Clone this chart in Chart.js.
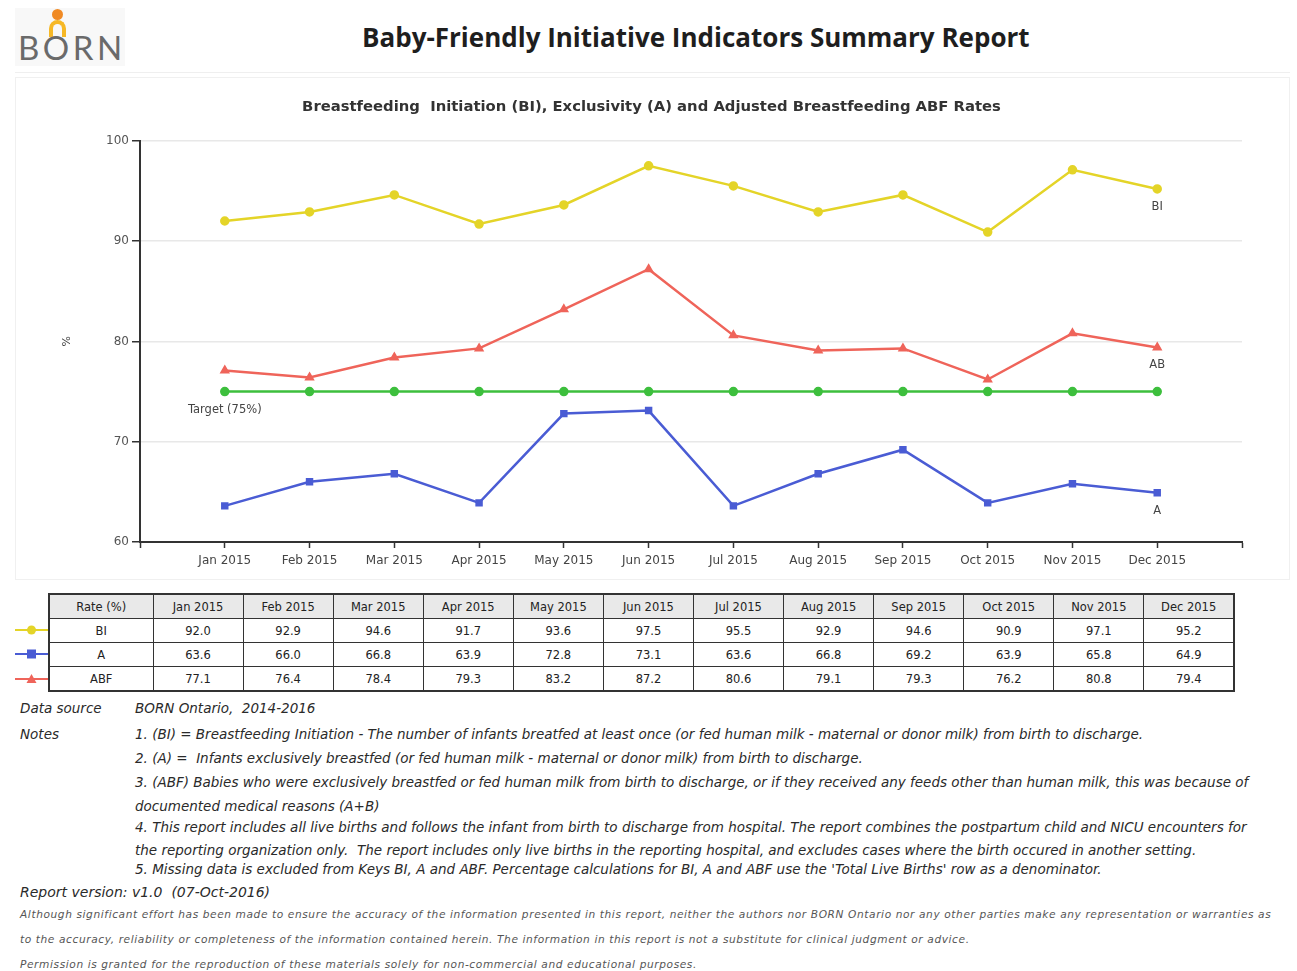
<!DOCTYPE html>
<html>
<head>
<meta charset="utf-8">
<script src="https://cdn.jsdelivr.net/npm/chart.js@4.4.1/dist/chart.umd.min.js"></script>
<style>
    body { margin: 0; background: #fff; width: 1297px; height: 971px; position: relative; overflow: hidden; font-family: "DejaVu Sans", sans-serif; color: #222; }
    #logo { position: absolute; left: 15px; top: 8px; width: 110px; height: 58px; background: #f8f8f8; }
    #logo .head { position: absolute; left: 37px; top: 1px; width: 11px; height: 11px; border-radius: 50%; background: #f08a24; }
    #logo .arch { position: absolute; left: 34px; top: 12px; width: 9px; height: 13px; border: 4px solid #f6b826; border-bottom: none; border-radius: 9px 9px 0 0; }
    #logo span { position: absolute; left: 3px; top: 19px; font-family: Lato, sans-serif; font-size: 33px; line-height: 40px; color: #6a6a6a; letter-spacing: 3.5px; }
    #title { position: absolute; left: 362px; top: 19px; font-family: "Open Sans", sans-serif; font-weight: 700; font-size: 26px; line-height: 36px; color: #1e1e1e; white-space: nowrap; }
    #rule { position: absolute; left: 15px; top: 72px; width: 1275px; height: 1px; background: #efefef; }
    #chartBox { position: absolute; left: 15px; top: 77px; width: 1275px; height: 503px; border: 1px solid #f0f0f0; box-sizing: border-box; }
    #rates { position: absolute; left: 48px; top: 593px; width: 1187px; border-collapse: collapse; border: 2px solid #333; table-layout: fixed; font-size: 11.5px; }
    #rates th, #rates td { border: 1px solid #333; height: 23px; padding: 0; text-align: center; font-weight: normal; }
    #rates th { background: #e9e9e9; }
    #rates col.first { width: 104px; }
    .key { position: absolute; left: 15px; width: 33px; height: 14px; }
    .note { position: absolute; font-style: italic; font-size: 13.5px; white-space: nowrap; color: #2a2a2a; }
    .fine { position: absolute; left: 20px; font-style: italic; font-size: 10.6px; white-space: nowrap; color: #555; letter-spacing: 0.6px; }
</style>
</head>
<body>
<div id="logo"><div class="head"></div><div class="arch"></div><span>BORN</span></div>
<div id="title">Baby-Friendly Initiative Indicators Summary Report</div>
<div id="rule"></div>
<div id="chartBox"><canvas id="rateChart" width="1273" height="501"></canvas></div>

<table id="rates"></table>
<div id="keys"></div>

<div class="note" style="left:20px;top:700px">Data source</div>
<div class="note" style="left:135px;top:700px">BORN Ontario,&nbsp; 2014-2016</div>
<div class="note" style="left:20px;top:726px">Notes</div>
<div class="note" style="left:135px;top:726px">1. (BI) = Breastfeeding Initiation - The number of infants breatfed at least once (or fed human milk - maternal or donor milk) from birth to discharge.</div>
<div class="note" style="left:135px;top:750px">2. (A) =&nbsp; Infants exclusively breastfed (or fed human milk - maternal or donor milk) from birth to discharge.</div>
<div class="note" style="left:135px;top:774px">3. (ABF) Babies who were exclusively breastfed or fed human milk from birth to discharge, or if they received any feeds other than human milk, this was because of</div>
<div class="note" style="left:135px;top:798px">documented medical reasons (A+B)</div>
<div class="note" style="left:135px;top:819px">4. This report includes all live births and follows the infant from birth to discharge from hospital. The report combines the postpartum child and NICU encounters for</div>
<div class="note" style="left:135px;top:842px">the reporting organization only.&nbsp; The report includes only live births in the reporting hospital, and excludes cases where the birth occured in another setting.</div>
<div class="note" style="left:135px;top:861px">5. Missing data is excluded from Keys BI, A and ABF. Percentage calculations for BI, A and ABF use the 'Total Live Births' row as a denominator.</div>
<div class="note" style="left:20px;top:884px;font-size:14px">Report version: v1.0&nbsp; (07-Oct-2016)</div>
<div class="fine" style="top:908px">Although significant effort has been made to ensure the accuracy of the information presented in this report, neither the authors nor BORN Ontario nor any other parties make any representation or warranties as</div>
<div class="fine" style="top:933px">to the accuracy, reliability or completeness of the information contained herein. The information in this report is not a substitute for clinical judgment or advice.</div>
<div class="fine" style="top:958px">Permission is granted for the reproduction of these materials solely for non-commercial and educational purposes.</div>

<script>
"use strict";

// DATA
const months = ["Jan 2015", "Feb 2015", "Mar 2015", "Apr 2015", "May 2015", "Jun 2015",
    "Jul 2015", "Aug 2015", "Sep 2015", "Oct 2015", "Nov 2015", "Dec 2015"];
const biRates = [92.0, 92.9, 94.6, 91.7, 93.6, 97.5, 95.5, 92.9, 94.6, 90.9, 97.1, 95.2];
const aRates = [63.6, 66.0, 66.8, 63.9, 72.8, 73.1, 63.6, 66.8, 69.2, 63.9, 65.8, 64.9];
const abfRates = [77.1, 76.4, 78.4, 79.3, 83.2, 87.2, 80.6, 79.1, 79.3, 76.2, 80.8, 79.4];
const targetRates = [75, 75, 75, 75, 75, 75, 75, 75, 75, 75, 75, 75];
const rowNames = ["BI", "A", "ABF"];
const yMin = 60;
const yMax = 100;
const yStep = 10;

const YELLOW = "#e4d428";
const BLUE = "#4a5cd4";
const RED = "#ef645a";
const GREEN = "#3dbf3d";
const AXIS = "#333";

function points(values) {
    return values.map((v, i) => ({ x: i + 1, y: v }));
}

// small text under a chosen point of a series
const seriesTags = {
    id: "seriesTags",
    afterDatasetsDraw(chart) {
        const ctx = chart.ctx;
        ctx.save();
        ctx.font = "11.5px 'DejaVu Sans'";
        ctx.fillStyle = "#444";
        ctx.textAlign = "center";
        ctx.textBaseline = "middle";
        chart.data.datasets.forEach((ds, i) => {
            if (!ds.tag) {
                return;
            }
            const pt = chart.getDatasetMeta(i).data[ds.tagAt];
            ctx.fillText(ds.tag, pt.x, pt.y + 18);
        });
        ctx.restore();
    }
};

function line(label, values, color, style, tag, tagAt) {
    return {
        label,
        data: points(values),
        borderColor: color,
        backgroundColor: color,
        pointBackgroundColor: color,
        pointBorderColor: color,
        pointStyle: style,
        pointRadius: 3.5,
        borderWidth: 2.5,
        tension: 0,
        tag,
        tagAt
    };
}

new Chart(document.getElementById("rateChart"), {
    type: "line",
    data: {
        datasets: [
            line("Target", targetRates, GREEN, "circle", "Target (75%)", 0),
            line("A", aRates, BLUE, "rect", "A", 11),
            line("ABF", abfRates, RED, "triangle", "AB", 11),
            line("BI", biRates, YELLOW, "circle", "BI", 11)
        ]
    },
    options: {
        responsive: false,
        animation: false,
        layout: { padding: { left: 45, right: 47, top: 0, bottom: 7 } },
        plugins: {
            legend: { display: false },
            tooltip: { enabled: false },
            title: {
                display: true,
                text: "Breastfeeding  Initiation (BI), Exclusivity (A) and Adjusted Breastfeeding ABF Rates",
                color: "#333",
                font: { family: "DejaVu Sans", size: 14.8, weight: "bold" },
                padding: { top: 20, bottom: 25 }
            }
        },
        scales: {
            x: {
                type: "linear",
                min: 0,
                max: months.length + 1,
                afterFit(scale) {
                    scale.height = 30;
                },
                ticks: {
                    stepSize: 1,
                    autoSkip: false,
                    maxRotation: 0,
                    padding: 6,
                    color: "#444",
                    font: { family: "DejaVu Sans", size: 12 },
                    callback: (v) => months[v - 1] || ""
                },
                grid: { drawOnChartArea: false, tickLength: 6, tickColor: AXIS, tickWidth: 1.5 },
                border: { color: AXIS, width: 2 }
            },
            y: {
                min: yMin,
                max: yMax,
                afterFit(scale) {
                    scale.width = 79;
                },
                ticks: {
                    stepSize: yStep,
                    padding: 3,
                    color: "#555",
                    font: { family: "DejaVu Sans", size: 12 }
                },
                grid: { color: "#e8e8e8", lineWidth: 1.5, tickLength: 8, tickColor: AXIS, tickWidth: 1.5 },
                border: { color: AXIS, width: 2 },
                title: {
                    display: true,
                    text: "%",
                    color: "#444",
                    font: { family: "DejaVu Sans", size: 11 },
                    padding: 0
                }
            }
        }
    },
    plugins: [seriesTags]
});

// table under the chart
const table = document.getElementById("rates");
let html = "<colgroup><col class='first'>" + months.map(() => "<col>").join("") + "</colgroup>";
html += "<tr><th>Rate (%)</th>" + months.map((m) => `<th>${m}</th>`).join("") + "</tr>";
[biRates, aRates, abfRates].forEach((values, r) => {
    html += `<tr><td>${rowNames[r]}</td>` + values.map((v) => `<td>${v.toFixed(1)}</td>`).join("") + "</tr>";
});
table.innerHTML = html;

// key swatches left of the table rows
const keyMarks = [
    `<circle cx="16.5" cy="7" r="4.5" fill="${YELLOW}"/>`,
    `<rect x="12" y="2.5" width="9" height="9" fill="${BLUE}"/>`,
    `<polygon points="16.5,2 21.5,11 11.5,11" fill="${RED}"/>`
];
const keyColors = [YELLOW, BLUE, RED];
const rows = table.rows;
const keys = document.getElementById("keys");
for (let r = 0; r < 3; r++) {
    const row = rows[r + 1];
    const top = table.offsetTop + row.offsetTop + row.offsetHeight / 2 - 7;
    keys.insertAdjacentHTML("beforeend",
        `<svg class="key" style="top:${top}px" viewBox="0 0 33 14"><line x1="0" y1="7" x2="33" y2="7" stroke="${keyColors[r]}" stroke-width="2"/>${keyMarks[r]}</svg>`);
}
</script>
</body>
</html>
